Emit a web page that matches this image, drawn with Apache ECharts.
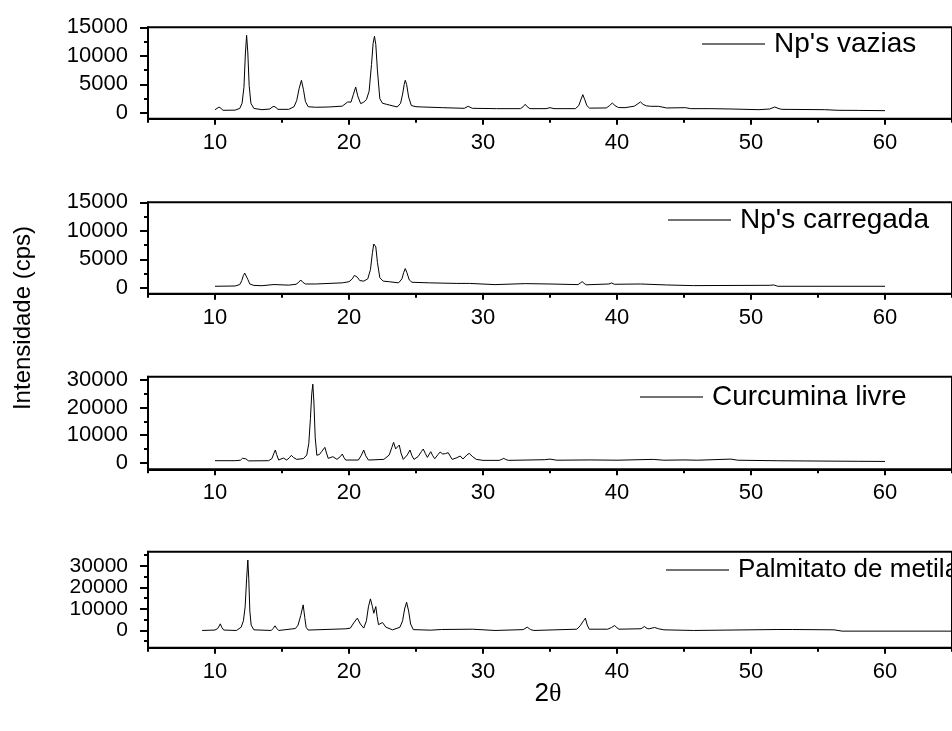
<!DOCTYPE html>
<html><head><meta charset="utf-8">
<script src="https://cdn.jsdelivr.net/npm/echarts@6/dist/echarts.min.js"></script>
<style>html,body{margin:0;padding:0;background:#fff}#c{width:952px;height:731px}</style>
</head><body><div id="c"></div>
<script>
const seriesNames = ["Np's vazias", "Np's carregada", "Curcumina livre", "Palmitato de metila"];

const npVazias = [[10.0,580],[10.15,800],[10.3,1050],[10.45,800],[10.6,470],[11.5,500],[11.85,800],[12.02,1700],[12.16,4500],[12.27,10500],[12.36,13600],[12.45,10500],[12.55,4800],[12.68,1700],[12.9,800],[13.5,580],[14.1,700],[14.25,1000],[14.4,1170],[14.55,950],[14.7,640],[15.5,640],[15.9,1100],[16.1,2200],[16.28,4300],[16.45,5720],[16.6,4100],[16.75,2000],[16.95,1100],[17.5,1000],[18.5,1050],[19.5,1200],[19.9,1930],[20.15,1900],[20.32,3200],[20.5,4550],[20.65,3000],[20.87,1640],[21.1,1900],[21.3,2340],[21.5,3800],[21.68,8500],[21.8,12200],[21.9,13430],[22.0,12000],[22.12,7500],[22.3,2500],[22.5,1700],[22.8,1520],[23.0,1400],[23.6,1050],[23.85,1700],[24.0,3300],[24.12,5000],[24.2,5720],[24.3,5000],[24.45,2800],[24.65,1300],[25.0,1100],[25.5,1050],[27,930],[28.6,820],[28.9,1170],[29.2,820],[31,760],[32.8,760],[33.0,1100],[33.15,1520],[33.3,1100],[33.5,760],[34.7,760],[35.0,930],[35.3,760],[36.9,760],[37.15,1300],[37.3,2300],[37.45,3210],[37.6,2300],[37.75,1300],[37.95,850],[39.2,880],[39.45,1300],[39.65,1750],[39.85,1300],[40.1,950],[40.6,930],[41.3,1200],[41.55,1600],[41.75,1930],[41.95,1500],[42.2,1250],[42.5,1170],[43.1,1170],[43.7,880],[45.1,930],[45.5,760],[46.95,760],[48.5,700],[50.6,580],[51.4,700],[51.77,1050],[52.1,750],[52.3,640],[55.5,580],[56.5,470],[58,450],[60,410]];

const npCarregada = [[10.0,300],[11.5,350],[11.85,600],[12.0,1300],[12.12,2200],[12.22,2600],[12.32,2400],[12.45,1500],[12.6,700],[12.9,450],[13.5,400],[14.4,600],[15.5,500],[16.05,650],[16.25,1000],[16.4,1400],[16.55,1000],[16.75,700],[17.5,700],[19.5,900],[20.0,1100],[20.25,1600],[20.4,2200],[20.5,2400],[20.62,1900],[20.8,1300],[21.1,1200],[21.4,1600],[21.6,3200],[21.75,6200],[21.85,7700],[21.92,8000],[22.0,7200],[22.12,4500],[22.3,1800],[22.55,1200],[23,1100],[23.7,900],[23.95,1600],[24.08,2700],[24.2,3400],[24.32,2700],[24.5,1400],[24.7,1000],[26,900],[28,800],[29,800],[30.9,590],[33.15,765],[35,700],[37.1,590],[37.25,850],[37.4,1115],[37.55,800],[37.7,560],[39.4,700],[39.6,880],[39.8,650],[39.9,530],[41.75,700],[43.7,530],[45.7,415],[51.4,470],[51.7,530],[52,300],[55,300],[60,300]];

const curcumina = [[10,725],[11.5,725],[11.9,900],[12.05,1600],[12.16,2180],[12.3,1400],[12.5,650],[14.0,725],[14.25,1500],[14.38,3200],[14.5,4590],[14.6,3000],[14.75,960],[15.1,1690],[15.35,960],[15.55,1800],[15.7,2660],[15.85,1900],[16.1,1200],[16.6,1500],[16.85,2800],[17.0,7000],[17.12,16000],[17.22,25000],[17.3,28500],[17.38,22000],[17.48,9000],[17.6,2700],[17.8,3000],[17.95,3990],[18.2,5560],[18.32,3500],[18.45,1560],[18.8,2180],[19.1,1200],[19.35,2200],[19.5,3140],[19.62,1900],[19.75,960],[20.7,960],[20.9,2500],[21.1,4590],[21.25,2500],[21.45,960],[22.6,1200],[23.0,2780],[23.2,5600],[23.33,7370],[23.48,5000],[23.6,5600],[23.75,6400],[23.88,3500],[24.05,1200],[24.35,2800],[24.55,4590],[24.7,2500],[24.85,1200],[25.15,2180],[25.4,4000],[25.54,4960],[25.7,3300],[25.85,1930],[26.1,3990],[26.25,2500],[26.4,1450],[26.65,3000],[26.8,3870],[27.0,3140],[27.2,3300],[27.4,3630],[27.55,2400],[27.7,1200],[28.05,1800],[28.3,2420],[28.5,1330],[28.8,2800],[28.97,3390],[29.2,2300],[29.5,1200],[30,840],[31.2,840],[31.4,1200],[31.55,1570],[31.7,1150],[31.9,840],[34.6,1080],[35,1300],[35.5,900],[38,1000],[40,900],[42.7,1200],[43.5,900],[45,1000],[46,900],[48.5,1300],[49,900],[52,700],[55,600],[58,500],[60,450]];

const palmitato = [[9.04,0],[10.0,200],[10.2,900],[10.4,3090],[10.5,1500],[10.65,200],[11.6,0],[11.95,1500],[12.12,4500],[12.25,11000],[12.36,24000],[12.45,32750],[12.52,24000],[12.6,9000],[12.7,2500],[12.9,300],[14.2,0],[14.35,1000],[14.48,2160],[14.6,1000],[14.75,0],[16.0,900],[16.2,2500],[16.4,7000],[16.58,11900],[16.7,6000],[16.8,1500],[16.95,200],[19.75,770],[20.1,1100],[20.35,3500],[20.62,5720],[20.85,3000],[21.1,1100],[21.3,4500],[21.45,11000],[21.6,14680],[21.75,11000],[21.85,8000],[22.0,11100],[22.1,6500],[22.2,2700],[22.5,3700],[22.75,1550],[23.25,300],[23.8,1500],[24.0,4500],[24.15,10000],[24.3,13130],[24.45,9000],[24.6,3000],[24.8,400],[26.1,150],[26.9,450],[29.2,600],[30.9,0],[33.0,400],[33.3,1550],[33.55,400],[33.8,0],[37.0,600],[37.25,2160],[37.5,4500],[37.64,5720],[37.78,2500],[37.93,600],[39.3,600],[39.6,1400],[39.83,2320],[40.0,1200],[40.15,600],[41.8,800],[42.04,1850],[42.25,900],[42.4,770],[42.8,1400],[43.1,800],[43.5,300],[45.7,0],[52.0,450],[53.1,450],[56.2,300],[56.8,-300],[60,-300],[65,-300]];

const xMajorTicks = [10, 20, 30, 40, 50, 60];
const xMinorTicks = [5, 15, 25, 35, 45, 55, 65];
const yMajorA = [0, 5000, 10000, 15000];
const yMinorA = [2500, 7500, 12500];
const yMajorB = [0, 10000, 20000, 30000];
const yMinorC = [5000, 15000, 25000];
const yMinorD = [-5000, 5000, 15000, 25000, 35000];
const yAxisTitle = 'Intensidade (cps)';
const xAxisTitle = '2θ';

const FONT = 'Liberation Sans, Arial, sans-serif';
const allData = [npVazias, npCarregada, curcumina, palmitato];
const panels = [
  {top: 27.3, height: 91.4, min: -1000, max: 15000, major: yMajorA, minor: yMinorA, legTop: 44, legLeft: 702, legFont: 28, yFont: 22},
  {top: 202.3, height: 91.4, min: -1000, max: 15000, major: yMajorA, minor: yMinorA, legTop: 220, legLeft: 668, legFont: 28, yFont: 22},
  {top: 376.7, height: 92.6, min: -2400, max: 31200, major: yMajorB, minor: yMinorC, legTop: 397, legLeft: 640, legFont: 28, yFont: 22},
  {top: 551.7, height: 96, min: -8000, max: 36600, major: yMajorB, minor: yMinorD, legTop: 570, legLeft: 666, legFont: 26, yFont: 21}
];

const black = '#000';
const grid = [], xAxis = [], yAxis = [], series = [], legend = [];
panels.forEach((p, i) => {
  grid.push({left: 148, right: -11, top: p.top, height: p.height, show: true, borderColor: black, borderWidth: 2, backgroundColor: 'transparent', containLabel: false});
  xAxis.push({gridIndex: i, type: 'value', min: 5, max: 65, position: 'bottom',
    axisLine: {onZero: false, lineStyle: {color: black, width: 2}},
    axisTick: {customValues: xMajorTicks, length: 6, lineStyle: {color: black, width: 2}},
    axisLabel: {customValues: xMajorTicks, fontSize: 22, color: black, fontFamily: FONT, margin: 13, hideOverlap: false},
    splitLine: {show: false}});
  xAxis.push({gridIndex: i, type: 'value', min: 5, max: 65, position: 'bottom',
    axisLine: {show: false, onZero: false},
    axisTick: {customValues: xMinorTicks, length: 4, lineStyle: {color: black, width: 2}},
    axisLabel: {show: false}, splitLine: {show: false}});
  yAxis.push({gridIndex: i, type: 'value', min: p.min, max: p.max, position: 'left',
    axisLine: {show: true, onZero: false, lineStyle: {color: black, width: 2}},
    axisTick: {customValues: p.major, length: 8, lineStyle: {color: black, width: 2}},
    axisLabel: {customValues: p.major, fontSize: p.yFont, color: black, fontFamily: FONT, margin: 20,
      hideOverlap: false, lineHeight: p.yFont, formatter: v => String(v)},
    splitLine: {show: false}});
  yAxis.push({gridIndex: i, type: 'value', min: p.min, max: p.max, position: 'left',
    axisLine: {show: false, onZero: false},
    axisTick: {customValues: p.minor, length: 4, lineStyle: {color: black, width: 2}},
    axisLabel: {show: false}, splitLine: {show: false}});
  series.push({name: seriesNames[i], type: 'line', xAxisIndex: 2 * i, yAxisIndex: 2 * i,
    data: allData[i], symbol: 'none', showSymbol: false, smooth: false,
    lineStyle: {color: black, width: 1}, itemStyle: {color: black}, animation: false});
  legend.push({data: [{name: seriesNames[i], icon: 'rect'}], left: p.legLeft, top: p.legTop - p.legFont / 2, padding: 0,
    itemWidth: 63, itemHeight: 1.5, selectedMode: false,
    itemStyle: {color: '#444'},
    textStyle: {fontSize: p.legFont, color: black, fontFamily: FONT, padding: [0, 0, 0, 4]}});
});

const chart = echarts.init(document.getElementById('c'), null, {renderer: 'canvas'});
chart.setOption({
  animation: false,
  backgroundColor: '#fff',
  grid, xAxis, yAxis, series, legend,
  graphic: [
    {type: 'text', x: 23, y: 318, rotation: Math.PI / 2,
      style: {text: yAxisTitle, font: '24px ' + FONT, fill: black, textAlign: 'center', textVerticalAlign: 'middle'}},
    {type: 'text', x: 548, y: 694,
      style: {text: '{a|2}{b|θ}', fill: black, textAlign: 'center', textVerticalAlign: 'middle',
        rich: {a: {fontFamily: FONT, fontSize: 26, fill: black}, b: {fontFamily: 'Liberation Serif, serif', fontSize: 26, fill: black}}}}
  ]
});
</script>
</body></html>
